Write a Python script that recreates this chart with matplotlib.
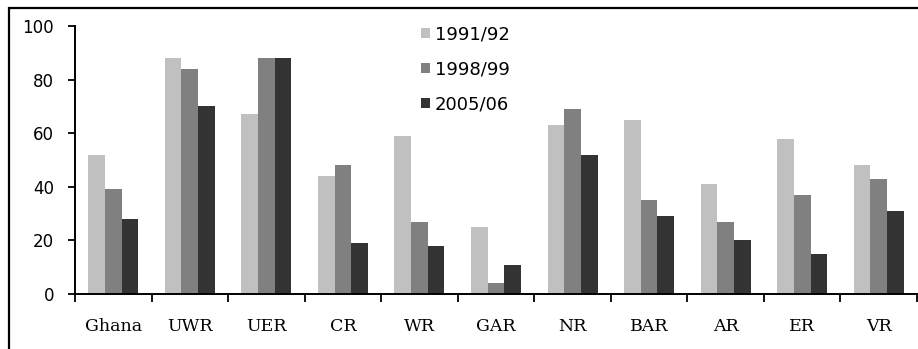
import numpy as np
import matplotlib
matplotlib.use('Agg')
import matplotlib.pyplot as plt
from matplotlib.patches import Rectangle

regions = ['Ghana', 'UWR', 'UER', 'CR', 'WR', 'GAR', 'NR', 'BAR', 'AR', 'ER', 'VR']
rounds = ['1991/92', '1998/99', '2005/06']
v_1991 = [52, 88, 67, 44, 59, 25, 63, 65, 41, 58, 48]
v_1998 = [39, 84, 88, 48, 27, 4, 69, 35, 27, 37, 43]
v_2005 = [28, 70, 88, 19, 18, 11, 52, 29, 20, 15, 31]
colors = ['#c0c0c0', '#808080', '#333333']

W, H = 918, 349
fig = plt.figure(figsize=(W / 100, H / 100), dpi=100)
ax = fig.add_axes([75 / W, 55 / H, 842 / W, 268 / H])

x = np.arange(len(regions))
bw = 0.218
for i, (vals, c, lab) in enumerate(zip([v_1991, v_1998, v_2005], colors, rounds)):
    ax.bar(x + (i - 1) * bw, vals, bw, color=c, label=lab, linewidth=0)

ax.set_xlim(-0.5, len(regions) - 0.5)
ax.set_ylim(0, 100)
ax.set_yticks(range(0, 101, 20))
ax.set_xticks(np.arange(len(regions) + 1) - 0.5)
ax.set_xticklabels([])
ax.set_xticks(x, minor=True)
ax.set_xticklabels(regions, minor=True, family='DejaVu Serif', fontsize=12.5)
ax.tick_params(axis='x', which='major', direction='out', length=6, width=1.3)
ax.tick_params(axis='x', which='minor', length=0, pad=17)
ax.tick_params(axis='y', direction='out', length=5, width=1.3, pad=10, labelsize=12)
for s in ['top', 'right']:
    ax.spines[s].set_visible(False)
for s in ['left', 'bottom']:
    ax.spines[s].set_linewidth(1.4)

ax.legend(loc='upper left', bbox_to_anchor=(405 / W, 1 - 9 / H),
          bbox_transform=fig.transFigure, frameon=False, fontsize=13,
          handlelength=0.5, handleheight=0.5, handletextpad=0.25,
          labelspacing=0.95)

# outer frame around the chart
fig.patches.append(Rectangle((9 / W, -0.05), 1.0, 1 - 8 / H + 0.05,
                             transform=fig.transFigure, fill=False,
                             edgecolor='black', linewidth=1.6))

fig.savefig('out.png', dpi=100)
